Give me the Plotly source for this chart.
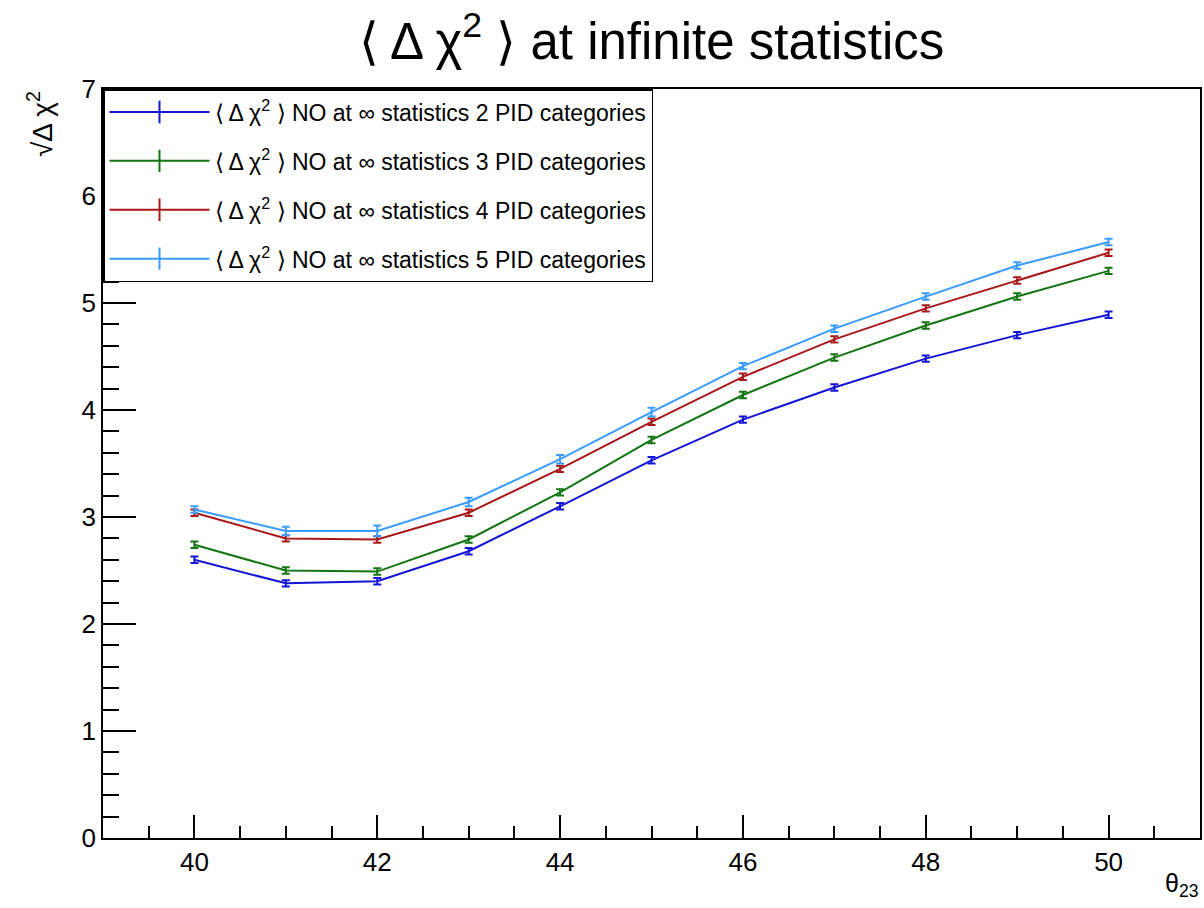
import plotly.graph_objects as go

# theta_23 scan points (degrees)
theta23 = [40, 41, 42, 43, 44, 45, 46, 47, 48, 49, 50]

# sqrt(<delta chi^2>) for normal ordering at infinite statistics
pid2 = [2.60, 2.38, 2.40, 2.68, 3.10, 3.53, 3.91, 4.21, 4.48, 4.70, 4.89]
pid3 = [2.74, 2.50, 2.49, 2.79, 3.23, 3.72, 4.14, 4.49, 4.79, 5.06, 5.30]
pid4 = [3.04, 2.80, 2.79, 3.04, 3.45, 3.89, 4.31, 4.66, 4.95, 5.21, 5.47]
pid5 = [3.07, 2.87, 2.87, 3.14, 3.54, 3.98, 4.41, 4.76, 5.06, 5.35, 5.57]

err2 = [0.03, 0.03, 0.03, 0.03, 0.03, 0.03, 0.03, 0.03, 0.03, 0.03, 0.03]
err3 = [0.03, 0.03, 0.03, 0.03, 0.03, 0.03, 0.03, 0.03, 0.03, 0.03, 0.03]
err4 = [0.03, 0.03, 0.03, 0.03, 0.03, 0.03, 0.03, 0.03, 0.03, 0.03, 0.03]
err5 = [0.03, 0.04, 0.05, 0.04, 0.04, 0.04, 0.03, 0.03, 0.03, 0.03, 0.03]

labels = [
    "⟨ Δ χ<sup>2</sup> ⟩ NO at ∞ statistics 2 PID categories",
    "⟨ Δ χ<sup>2</sup> ⟩ NO at ∞ statistics 3 PID categories",
    "⟨ Δ χ<sup>2</sup> ⟩ NO at ∞ statistics 4 PID categories",
    "⟨ Δ χ<sup>2</sup> ⟩ NO at ∞ statistics 5 PID categories",
]
colors = ["#1414d6", "#127512", "#a81818", "#3a9cff"]

FONT = "Liberation Sans, Arial, Helvetica, sans-serif"

fig = go.Figure()

for i, (ys, es) in enumerate([(pid2, err2), (pid3, err3), (pid4, err4), (pid5, err5)]):
    c = colors[i]
    fig.add_trace(go.Scatter(
        x=theta23, y=ys, mode="lines",
        line=dict(color=c, width=2),
        error_y=dict(type="data", array=es, visible=True, color=c, thickness=2, width=4),
        showlegend=False,
    ))
    # legend entry: line with a vertical error-bar glyph
    fig.add_trace(go.Scatter(
        x=[None], y=[None], mode="lines+markers", name=labels[i],
        line=dict(color=c, width=2),
        marker=dict(symbol="line-ns", size=24, color=c, line=dict(color=c, width=2)),
        legendgroup=f"g{i}", showlegend=True,
    ))

axis_common = dict(
    showgrid=False, zeroline=False, showline=True, linecolor="black", linewidth=1.5,
    mirror=True, ticks="inside", tickcolor="black", tickwidth=1.5,
    tickfont=dict(family=FONT, size=26, color="black"),
)

fig.update_layout(
    width=1204, height=908,
    margin=dict(l=103, r=2, t=89, b=70),
    paper_bgcolor="white", plot_bgcolor="white",
    title=dict(
        text="⟨ Δ χ<sup>2</sup> ⟩ at infinite statistics",
        x=0.5, xref="paper", xanchor="center", y=0.955, yanchor="middle",
        font=dict(family=FONT, size=51, color="black"),
    ),
    xaxis=dict(
        range=[39, 51], tickmode="linear", tick0=40, dtick=2, ticklen=23,
        minor=dict(tickmode="linear", tick0=39.5, dtick=0.5, ticks="inside", ticklen=12,
                   tickcolor="black", tickwidth=1.5, showgrid=False),
        **axis_common,
    ),
    yaxis=dict(
        range=[0, 7], tickmode="linear", tick0=0, dtick=1, ticklen=33,
        minor=dict(tickmode="linear", tick0=0, dtick=0.2, ticks="inside", ticklen=16,
                   tickcolor="black", tickwidth=1.5, showgrid=False),
        **axis_common,
    ),
    legend=dict(
        x=0, y=1, xanchor="left", yanchor="top",
        bgcolor="white", bordercolor="black", borderwidth=1.5,
        font=dict(family=FONT, size=23, color="black"),
        tracegroupgap=16, itemwidth=100,
    ),
    annotations=[
        dict(text="θ<sub>23</sub>", xref="paper", yref="paper", x=1, y=-0.063,
             xanchor="right", yanchor="middle", showarrow=False,
             font=dict(family=FONT, size=25, color="black")),
        dict(text="√<span>Δ χ<sup>2</sup></span>", xref="paper", yref="paper", x=0, y=1,
             xanchor="center", yanchor="top", xshift=-63, textangle=-90, showarrow=False,
             font=dict(family=FONT, size=28, color="black")),
    ],
)

fig.write_html("out.html")
